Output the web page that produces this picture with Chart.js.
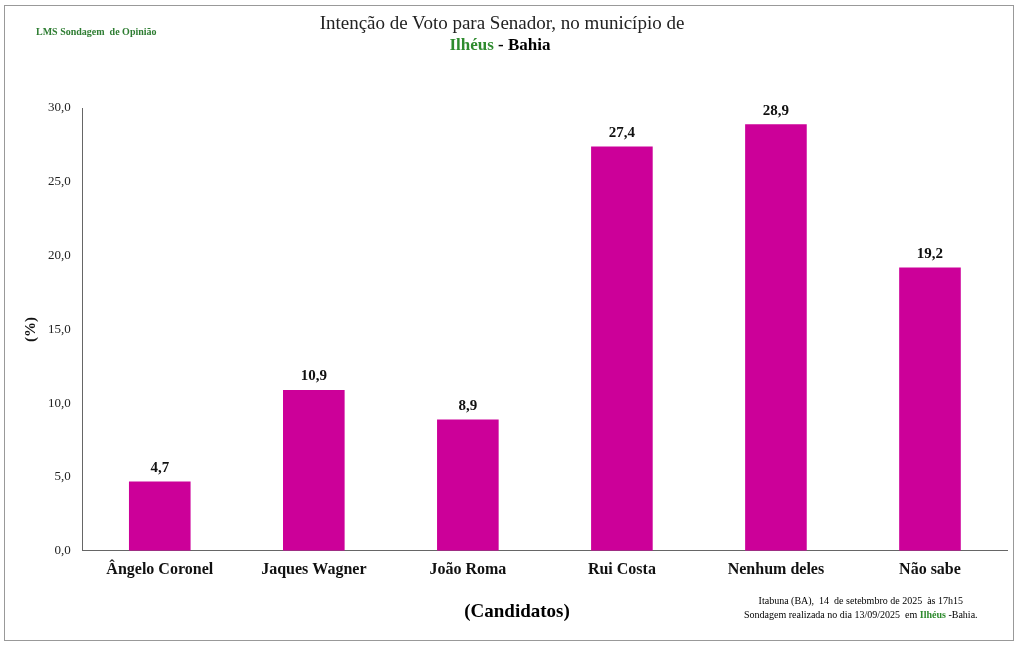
<!DOCTYPE html>
<html>
<head>
<meta charset="utf-8">
<script src="https://cdn.jsdelivr.net/npm/chart.js@4"></script>
<style>
    body { margin: 0; background: #fff; font-family: "Liberation Serif", serif; }
    #wrap { position: relative; width: 1024px; height: 649px; }
    #frame { position: absolute; left: 4px; top: 5px; width: 1010px; height: 636px; border: 1px solid #999; box-sizing: border-box; }
    canvas { position: absolute; left: 0; top: 0; }
    .txt { position: absolute; white-space: nowrap; }
</style>
</head>
<body>
<div id="wrap">
    <div id="frame"></div>
    <canvas id="chart" width="1024" height="649"></canvas>
    <div class="txt" style="left:36px;top:26px;font-size:10px;font-weight:bold;color:#2e7d32;">LMS Sondagem&nbsp; de Opinião</div>
    <div class="txt" style="left:0;width:1004px;text-align:center;top:12px;font-size:19px;color:#222;">Intenção de Voto para Senador, no município de</div>
    <div class="txt" style="left:0;width:1000px;text-align:center;top:35px;font-size:17px;font-weight:bold;"><span style="color:#2e8b2e">Ilhéus</span> - Bahia</div>
    <div class="txt" style="left:0;width:1034px;text-align:center;top:600px;font-size:19px;font-weight:bold;">(Candidatos)</div>
    <div class="txt" style="left:744px;top:594px;font-size:10px;text-align:center;line-height:14px;">Itabuna (BA),&nbsp; 14&nbsp; de setebmbro de 2025&nbsp; às 17h15<br>Sondagem realizada no dia 13/09/2025&nbsp; em <b style="color:#2e8b2e">Ilhéus</b> -Bahia.</div>
</div>
<script>
const candidatos = [`Ângelo Coronel`, `Jaques Wagner`, `João Roma`, `Rui Costa`, `Nenhum deles`, `Não sabe`];
const percentuais = [4.7, 10.9, 8.9, 27.4, 28.9, 19.2];

const valueLabels = {
    id: `valueLabels`,
    afterDatasetsDraw(chart) {
        const ctx = chart.ctx;
        ctx.save();
        ctx.font = `bold 15px "Liberation Serif"`;
        ctx.fillStyle = `#111`;
        ctx.textAlign = `center`;
        ctx.textBaseline = `bottom`;
        chart.getDatasetMeta(0).data.forEach((bar, i) => {
            ctx.fillText(percentuais[i].toFixed(1).replace(`.`, `,`), bar.x, bar.y - 6);
        });
        ctx.restore();
    }
};

new Chart(document.querySelector(`#chart`), {
    type: `bar`,
    data: {
        labels: candidatos,
        datasets: [{
            data: percentuais,
            backgroundColor: `#cc0099`,
            categoryPercentage: 1,
            barPercentage: 0.4
        }]
    },
    options: {
        responsive: false,
        animation: false,
        layout: { padding: { top: 108, bottom: 61, left: 18, right: 17 } },
        plugins: { legend: { display: false }, tooltip: { enabled: false } },
        scales: {
            x: {
                grid: { display: false, drawTicks: false },
                border: { color: `#666` },
                ticks: { color: `#111`, padding: 9, font: { family: `Liberation Serif`, size: 16, weight: `bold` } }
            },
            y: {
                min: 0, max: 30,
                grid: { display: false },
                border: { color: `#666` },
                ticks: {
                    stepSize: 5, color: `#222`, padding: 4,
                    font: { family: `Liberation Serif`, size: 13 },
                    callback: v => v.toFixed(1).replace(`.`, `,`)
                },
                title: { display: true, text: `(%)`, color: `#111`, font: { family: `Liberation Serif`, size: 15, weight: `bold` } }
            }
        }
    },
    plugins: [valueLabels]
});
</script>
</body>
</html>
